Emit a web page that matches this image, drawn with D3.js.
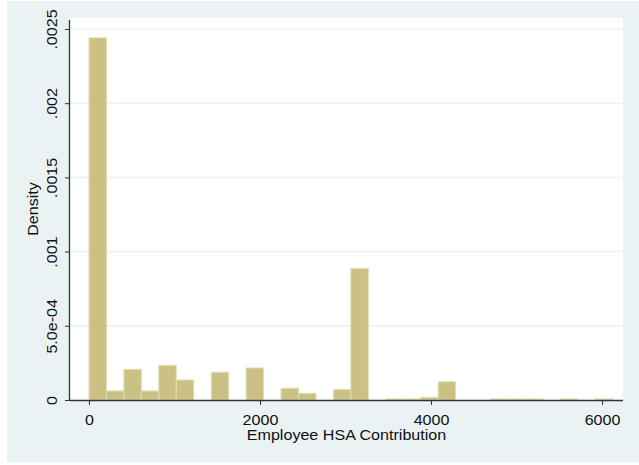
<!DOCTYPE html>
<html><head><meta charset="utf-8">
<script src="https://cdn.jsdelivr.net/npm/d3@7"></script>
<style>body{margin:0;background:#fff}svg{display:block}text{font-family:"Liberation Sans",Arial,sans-serif;fill:#111}</style>
</head><body><svg id="c" width="639" height="465"></svg>
<script>
// Histogram: 30 bins starting at 0
const binStart = 0;
const binWidth = 204.17;
const densities = [0.00244,0.000061,0.000207,0.000061,0.000234,0.000135,0,0.000187,0,0.000216,
  0,0.000079,0.000045,0,0.00007,0.000887,0,0.000007,0.000007,0.000018,
  0.000123,0,0,0.000007,0.000007,0.000007,0,0.000007,0,0.000007];
const xTicks = [0,2000,4000,6000];
const xTickLabels = ["0","2000","4000","6000"];
const yTicks = [0,0.0005,0.001,0.0015,0.002,0.0025];
const yTickLabels = ["0","5.0e-04",".001",".0015",".002",".0025"];
const xTitle = "Employee HSA Contribution";
const yTitle = "Density";

const svg = d3.select("#c");
const L=70,R=623,T=18,B=400;
svg.append("rect").attr("x",7).attr("y",1).attr("width",632).attr("height",461).attr("fill","#eaf2f3");
svg.append("rect").attr("x",L).attr("y",T).attr("width",R-L).attr("height",B-T).attr("fill","#fff");

const x = d3.scaleLinear().domain([-222,6245]).range([L,R]);
const y = d3.scaleLinear().domain([0,0.002574]).range([B,T]);

// grid
svg.append("g").selectAll("line").data(yTicks.filter(d=>d>0)).join("line")
  .attr("x1",L).attr("x2",R).attr("y1",d=>y(d)).attr("y2",d=>y(d))
  .attr("stroke","#eaf2f3").attr("stroke-width",1.5);

// bars
const bins = densities.map((d,i)=>({x0:binStart+i*binWidth,x1:binStart+(i+1)*binWidth,d}));
svg.append("g").selectAll("rect").data(bins.filter(b=>b.d>0)).join("rect")
  .attr("x",b=>x(b.x0)).attr("width",b=>x(b.x1)-x(b.x0))
  .attr("y",b=>y(b.d)).attr("height",b=>Math.max(1,B-y(b.d)))
  .attr("fill","#cbc185").attr("stroke","#e2ddb3").attr("stroke-width",1);

// axes
const xa = d3.axisBottom(x).tickValues(xTicks).tickFormat((d,i)=>xTickLabels[i]).tickSize(5).tickSizeOuter(0);
const gx = svg.append("g").attr("transform",`translate(0,${B})`).call(xa);
gx.select(".domain").attr("d",`M${L},0.5H${R}`).attr("stroke","#333").attr("stroke-width",1.3);
gx.selectAll(".tick line").attr("stroke","#333");
gx.selectAll(".tick text").attr("y",null).attr("dy",null).attr("transform","translate(0,25) scale(1.15,1)")
  .attr("font-size",14).attr("fill","#111");

const ya = d3.axisLeft(y).tickValues(yTicks).tickFormat((d,i)=>yTickLabels[i]).tickSize(5).tickSizeOuter(0);
const gy = svg.append("g").attr("transform",`translate(${L},0)`).call(ya);
gy.select(".domain").attr("d",`M-0.5,${T+2}V${B}`).attr("stroke","#333").attr("stroke-width",1.3);
gy.selectAll(".tick line").attr("stroke","#333");
gy.selectAll(".tick text").attr("x",null).attr("dy",null).attr("text-anchor","middle")
  .attr("transform","translate(-13,0) rotate(-90) scale(1.15,1)").attr("font-size",14).attr("fill","#111");

svg.append("text").attr("text-anchor","middle").attr("font-size",14)
  .attr("transform",`translate(${(L+R)/2},440) scale(1.15,1)`).text(xTitle);
svg.append("text").attr("text-anchor","middle").attr("font-size",14)
  .attr("transform",`translate(37.5,${(T+B)/2}) rotate(-90) scale(1.15,1)`).text(yTitle);
</script></body></html>
